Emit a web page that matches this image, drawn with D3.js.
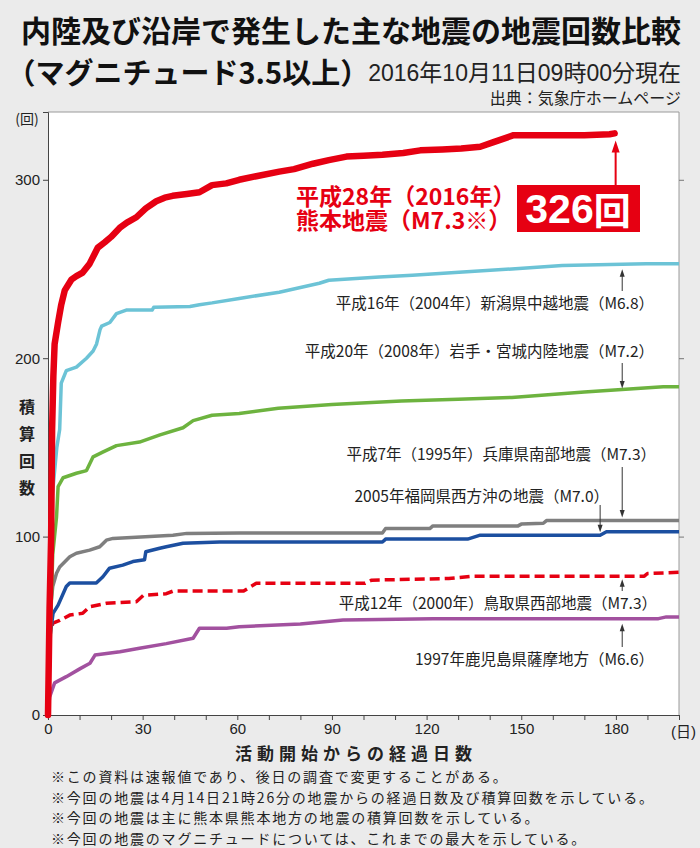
<!DOCTYPE html>
<html><head><meta charset="utf-8">
<script src="https://cdn.jsdelivr.net/npm/d3@7"></script>
<style>
html,body{margin:0;padding:0;background:#ebebeb;}
#wrap{position:relative;width:700px;height:848px;}
svg{display:block;}
text{font-family:"Liberation Sans","Noto Sans CJK JP",sans-serif;}
.jp{font-family:"Noto Sans CJK JP","Liberation Sans",sans-serif;}
.halt{font-feature-settings:"halt" 1;}
#klabel{position:absolute;left:296px;top:183px;font-family:"Noto Sans CJK JP",sans-serif;font-size:23px;font-weight:bold;color:#e60012;line-height:24px;white-space:nowrap;}
</style></head>
<body>
<div id="wrap">
<svg id="c" width="700" height="848"></svg>
</div>
<script>
// ---------- data ----------
const kumamotoDays = [0,0.5,1.0,1.3,1.7,2.1,3.2,4.2,5.3,7.4,9,11,13.2,15.8,18,20,22.7,25,28,31,34.3,37,39.5,44,48,52,56.5,60.6,66,73.3,78,84,89,94.6,100,106,112.6,118,125,131,137,141,147.6,160,170,178,179.6];
const kumamotoVals = [0,60,100,160,190,208,220,230,238,244,246,248,253,262,265,268,273,276,279,284,288,290,291,292,293,297,298,300,302,304.6,306,309,311,313,313.5,314,315,316.5,317,317.5,318.5,321,325,325,325,325.5,326];

const niigataDays = [0,1.2,2.8,3.7,4.2,5.8,9,12.2,14.3,15.4,16.5,17,19.6,21.7,24.8,33,33.5,45,48,52,60.6,73.3,86,89,105,115.5,131.5,147,163,189.6,200];
const niigataVals = [0,120,150,160,186,193,195,200,204,208,216,218,220,225,227,227,228.5,229,230,231,233.5,237,242,243.7,245.5,246.5,248.3,250,252,253,253];

const iwateDays = [0,1.5,2.7,3.2,4.8,9,12.2,14.3,17.5,21.7,29,35.5,42.8,46,52,60.6,73,90,112,130,147,170,195,200];
const iwateVals = [0,90,111,128,133,135.5,137,144.7,147.5,151,153,157,161,165,168,169,172,174,176,177,178,181,184,184];

const kobeDays = [0,0.5,1.5,2.7,3.7,6.9,9,13.2,16.4,18.5,20.6,32.3,39.6,44,60.6,80,106,107,121,122,149,150,157,158,200];
const kobeVals = [0,55,72,79.5,83,88.7,90.7,92.4,94.3,98,99,100,100.8,101.8,102,102,102,104.5,104.5,106,106,107,107.5,109,109];

const fukuokaDays = [0,0.7,1.6,3.2,5.8,6.9,15.3,17.4,19.5,23.7,26.9,30.6,31,35.4,37.5,42.8,54.4,106,107,133,137,175,177,200];
const fukuokaVals = [0,45,57,61.6,72,74,74,77.5,82.3,84,86,87,91.5,93.5,94.3,96.3,97,97,98.6,98.6,100.8,100.8,102.7,102.7];

const tottoriDays = [0,0.3,0.5,1.6,3.7,6.9,11,13.2,18.5,28,30.2,37.5,39.7,62,66,100.5,102.6,127,134.3,189,190,200];
const tottoriVals = [0,30,46,51.5,53,56,57,60.7,62.6,63.5,67,68,69.5,69.5,73.8,73.8,75.6,76.5,77.8,77.8,79.3,80];

const kagoshimaDays = [0,0.5,2.1,5.8,10.2,13.3,14.9,22.8,29,37.5,46,48,56.6,60.6,80,93.5,122,193.5,196,200];
const kagoshimaVals = [0,10,18,21.5,26,29,33.6,35.5,37.4,40,43,48.6,48.6,49.5,51,53.2,54,54,55,55];

const xTicks = [0,10,20,30,40,50,60,70,80,90,100,110,120,130,140,150,160,170,180,190,200];
const xLabels = [0,30,60,90,120,150,180];
const yTicks = [0,100,200,300];

const seriesNames = ["1997年鹿児島県薩摩地方（M6.6）","平成12年（2000年）鳥取県西部地震（M7.3）","2005年福岡県西方沖の地震（M7.0）","平成7年（1995年）兵庫県南部地震（M7.3）","平成20年（2008年）岩手・宮城内陸地震（M7.2）","平成16年（2004年）新潟県中越地震（M6.8）"];
const kumamotoName = ["平成28年（2016年）","熊本地震（M7.3※）"];

const notes = [
 "※この資料は速報値であり、後日の調査で変更することがある。",
 "※今回の地震は4月14日21時26分の地震からの経過日数及び積算回数を示している。",
 "※今回の地震は主に熊本県熊本地方の地震の積算回数を示している。",
 "※今回の地震のマグニチュードについては、これまでの最大を示している。"
];

// ---------- drawing ----------
const svg = d3.select("#c");
const x = d3.scaleLinear().domain([0,200]).range([48,679]);
const y = d3.scaleLinear().domain([0,338]).range([715,112]);

// title
svg.append("text").attr("class","jp").attr("x",21).attr("y",29).attr("dominant-baseline","central")
  .attr("font-size",30).attr("font-weight","bold").attr("fill","#111")
  .text("内陸及び沿岸で発生した主な地震の地震回数比較");
svg.append("text").attr("class","jp halt").attr("x",21).attr("y",71).attr("dominant-baseline","central")
  .attr("font-size",29).attr("font-weight","bold").attr("fill","#111")
  .text("（マグニチュード3.5以上）");
svg.append("text").attr("x",681).attr("y",73).attr("text-anchor","end").attr("dominant-baseline","central")
  .attr("font-size",23).attr("fill","#222")
  .text("2016年10月11日09時00分現在");
svg.append("text").attr("class","jp").attr("x",681).attr("y",97).attr("text-anchor","end").attr("dominant-baseline","central")
  .attr("font-size",16).attr("fill","#222")
  .text("出典：気象庁ホームページ");

// plot area
svg.append("rect").attr("x",x(0)).attr("y",y(338)).attr("width",x(200)-x(0)).attr("height",y(0)-y(338))
  .attr("fill","#fff");
svg.append("path").attr("d",`M${x(0)},${y(338)}H${x(200)}V${y(0)}`).attr("fill","none").attr("stroke","#9a9a9a").attr("stroke-width",1);

// axes
const gx = svg.append("g").attr("transform",`translate(0,${y(0)})`)
  .call(d3.axisBottom(x).tickValues(xTicks).tickSize(5).tickPadding(3)
    .tickFormat(d => xLabels.includes(d) ? d : ""));
gx.selectAll("text").attr("font-size",15).attr("fill","#222");
gx.selectAll("line,path").attr("stroke","#444");

const gy = svg.append("g").attr("transform",`translate(${x(0)},0)`)
  .call(d3.axisLeft(y).tickValues(yTicks).tickSize(5).tickPadding(3));
gy.selectAll("text").attr("font-size",15).attr("fill","#222");
gy.selectAll("line,path").attr("stroke","#444");

const gyr = svg.append("g").attr("transform",`translate(${x(200)},0)`)
  .call(d3.axisRight(y).tickValues(yTicks.slice(1)).tickSize(5).tickFormat(""));
gyr.select(".domain").remove();
gyr.selectAll("line").attr("stroke","#777");

svg.append("text").attr("x",x(200)-8).attr("y",731).attr("dominant-baseline","central")
  .attr("font-size",15).attr("fill","#222").text("(日)");
svg.append("text").attr("class","jp").attr("x",27).attr("y",118).attr("text-anchor","middle").attr("dominant-baseline","central")
  .attr("font-size",14).attr("fill","#222").text("(回)");
const ylab = "積算回数".split("");
ylab.forEach((c,i)=>svg.append("text").attr("class","jp").attr("x",27).attr("y",406+i*27)
  .attr("text-anchor","middle").attr("dominant-baseline","central").attr("font-size",16).attr("font-weight","bold")
  .attr("fill","#222").text(c));
svg.append("text").attr("class","jp").attr("x",356).attr("y",752).attr("text-anchor","middle").attr("dominant-baseline","central")
  .attr("font-size",17).attr("font-weight","bold").attr("letter-spacing",5).attr("fill","#222")
  .text("活動開始からの経過日数");

notes.forEach((t,i)=>svg.append("text").attr("class","jp").attr("x",51).attr("y",776+i*20.5)
  .attr("dominant-baseline","central").attr("font-size",14).attr("letter-spacing",1.8).attr("fill","#222").text(t));

// lines
const line = d3.line().x(d=>x(d[0])).y(d=>y(d[1]));
const zip = (a,b)=>a.map((d,i)=>[d,b[i]]);
const series = [
  {days:kagoshimaDays, vals:kagoshimaVals, color:"#a2519f", w:3.5},
  {days:tottoriDays, vals:tottoriVals, color:"#e60012", w:3.5, dash:"10,5"},
  {days:fukuokaDays, vals:fukuokaVals, color:"#1c4fa0", w:3.5},
  {days:kobeDays, vals:kobeVals, color:"#7f7f7f", w:3.5},
  {days:iwateDays, vals:iwateVals, color:"#6db33f", w:3.5},
  {days:niigataDays, vals:niigataVals, color:"#6cc3d6", w:3.5},
  {days:kumamotoDays, vals:kumamotoVals, color:"#e60012", w:6.5}
];
svg.append("clipPath").attr("id","pc").append("rect")
  .attr("x",x(0)-4).attr("y",y(338)).attr("width",x(200)-x(0)+4).attr("height",y(0)-y(338)+4);
const gl = svg.append("g").attr("clip-path","url(#pc)");
series.forEach(s=>{
  gl.append("path").datum(zip(s.days,s.vals)).attr("d",line)
    .attr("fill","none").attr("stroke",s.color).attr("stroke-width",s.w)
    .attr("stroke-linejoin","round").attr("stroke-linecap",s.dash?"butt":"round")
    .attr("stroke-dasharray",s.dash||null);
});

function valueAt(days, vals, d){
  const i = d3.bisectRight(days,d);
  if(i<=0) return vals[0];
  if(i>=days.length) return vals[vals.length-1];
  const t=(d-days[i-1])/(days[i]-days[i-1]);
  return vals[i-1]+t*(vals[i]-vals[i-1]);
}
function arrow(ax, yFrom, yTip, color, w, head){
  const dir = yTip<yFrom ? 1 : -1;
  svg.append("line").attr("x1",ax).attr("x2",ax).attr("y1",yFrom).attr("y2",yTip+dir*head*1.2)
    .attr("stroke",color).attr("stroke-width",w);
  svg.append("path").attr("d",`M${ax},${yTip}L${ax-head*0.5},${yTip+dir*head*1.5}L${ax+head*0.5},${yTip+dir*head*1.5}Z`)
    .attr("fill",color);
}

// annotations for other quakes
const ad = 182;
const labels = [
  {name:seriesNames[5], lx:654, ly:302, days:niigataDays, vals:niigataVals, from:291, off:5, ax:ad},
  {name:seriesNames[4], lx:654, ly:350, days:iwateDays, vals:iwateVals, from:363, off:-1, ax:ad},
  {name:seriesNames[3], lx:656, ly:453, days:kobeDays, vals:kobeVals, from:467, off:-3, ax:ad},
  {name:seriesNames[2], lx:609, ly:495, days:fukuokaDays, vals:fukuokaVals, from:505, off:-3, ax:175},
  {name:seriesNames[1], lx:657, ly:602, days:tottoriDays, vals:tottoriVals, from:591, off:3, ax:ad},
  {name:seriesNames[0], lx:654, ly:658, days:kagoshimaDays, vals:kagoshimaVals, from:647, off:5, ax:ad}
];
labels.forEach(l=>{
  svg.append("text").attr("class","jp").attr("x",l.lx).attr("y",l.ly).attr("text-anchor","end")
    .attr("dominant-baseline","central").attr("font-size",15.5).attr("fill","#222").text(l.name);
  const tip = y(valueAt(l.days,l.vals,l.ax)) + l.off;
  arrow(x(l.ax), l.from, tip, "#333", 1, 5);
});

// Kumamoto annotation
const kd = kumamotoDays[kumamotoDays.length-1];
const kv = kumamotoVals[kumamotoVals.length-1];
arrow(x(kd)+1, 186, y(kv)+7, "#e60012", 2, 8);
d3.select("#wrap").append("div").attr("id","klabel").html(kumamotoName.join("<br>"));
svg.append("rect").attr("x",517).attr("y",185).attr("width",123).attr("height",47).attr("fill","#e60012");
svg.append("text").attr("x",578).attr("y",209).attr("text-anchor","middle").attr("dominant-baseline","central")
  .attr("font-size",41).attr("font-weight","bold").attr("fill","#fff")
  .html(`${kv}<tspan class="jp" font-size="37">回</tspan>`);
</script>
</body></html>
